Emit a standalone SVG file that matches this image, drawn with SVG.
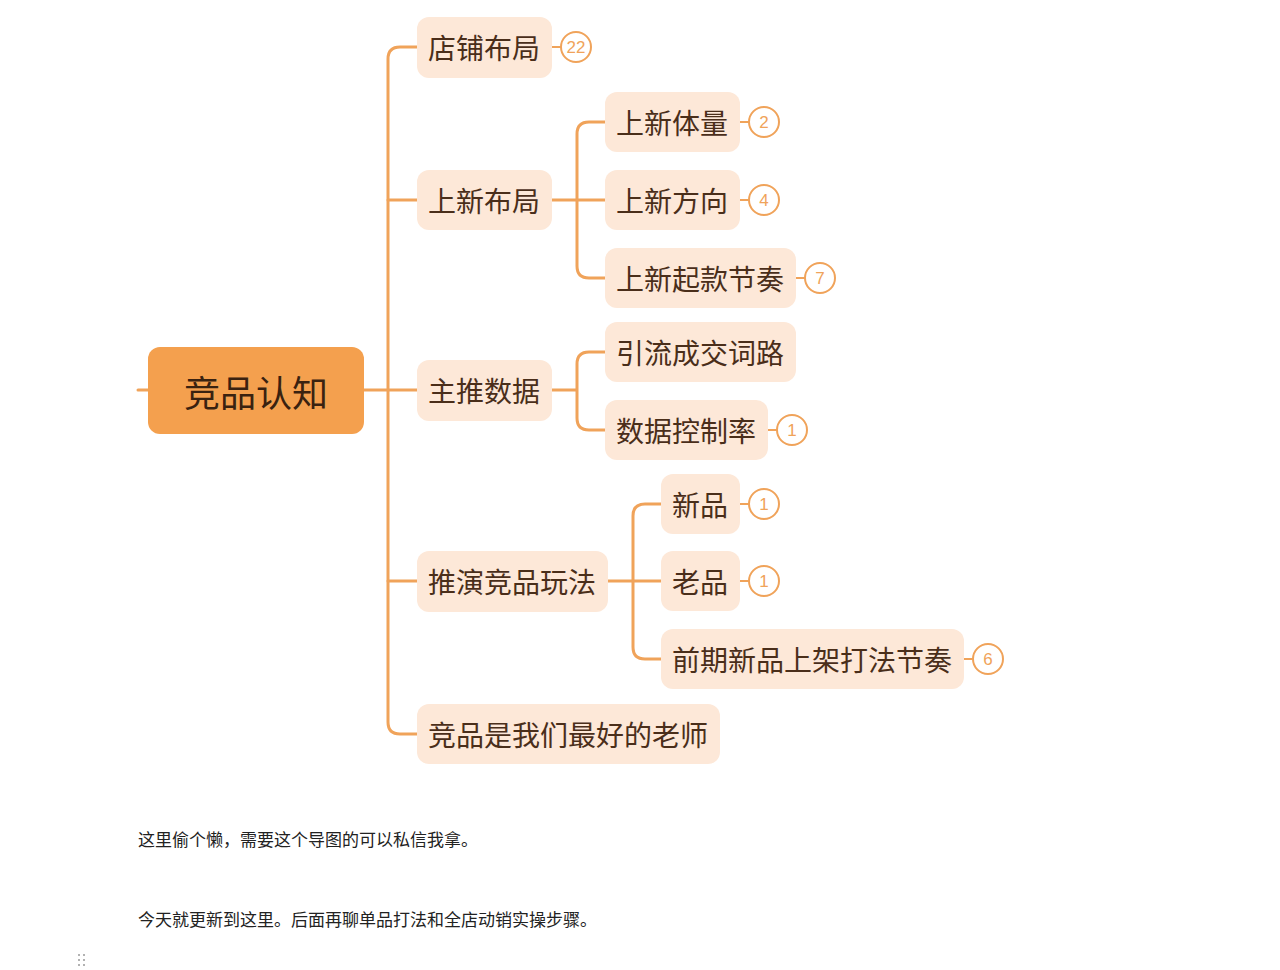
<svg xmlns="http://www.w3.org/2000/svg" width="1280" height="970" viewBox="0 0 1280 970">
<style>
.c{fill:none;stroke:#f0a35a;stroke-width:3;stroke-linecap:round}
.n{fill:#fde8d8}
.t{font-family:"Noto Sans CJK SC",sans-serif;font-size:28px;fill:#4a2e1a;dominant-baseline:central}
.b{fill:#fff;stroke:#f0a35a;stroke-width:2}
.bt{font-family:"Liberation Sans",sans-serif;font-size:17px;fill:#f0a35a;text-anchor:middle;dominant-baseline:central}
.p{font-family:"Noto Sans CJK SC",sans-serif;font-size:17px;fill:#222}
</style>
<rect width="1280" height="970" fill="#fff"/>
<g id="connectors">
<path class="c" d="M138 390H148M364 390H418"/>
<path class="c" d="M418 47H400Q388 47 388 59V722Q388 734 400 734H418"/>
<path class="c" d="M388 200Q388 200 400 200H418M388 581H418"/>
<path class="c" d="M552 200H606M606 122H589Q577 122 577 134V266Q577 278 589 278H606"/>
<path class="c" d="M552 390H577M606 352H589Q577 352 577 364V418Q577 430 589 430H606"/>
<path class="c" d="M608 581H662M662 504H645Q633 504 633 516V647Q633 659 645 659H662"/>
<path class="c" d="M552 47H562M740 122H750M740 200H750M796 278H806M768 430H778M740 504H750M740 581H750M964 659H974" style="stroke-width:2"/>
</g>
<g id="root"><rect x="148" y="347" width="216" height="87" rx="12" fill="#f4a04e"/><text x="256" y="391" class="t" style="font-size:36px;fill:#3a2210" text-anchor="middle">竞品认知</text></g>
<g id="n1"><rect class="n" x="417" y="17" width="135" height="61" rx="12"/><text class="t" x="428" y="47">店铺布局</text><circle class="b" cx="576" cy="47" r="15"/><text class="bt" x="576" y="47">22</text></g>
<g id="n2"><rect class="n" x="417" y="170" width="135" height="60" rx="12"/><text class="t" x="428" y="200">上新布局</text></g>
<g id="n3"><rect class="n" x="417" y="360" width="135" height="61" rx="12"/><text class="t" x="428" y="390">主推数据</text></g>
<g id="n4"><rect class="n" x="417" y="551" width="191" height="61" rx="12"/><text class="t" x="428" y="581">推演竞品玩法</text></g>
<g id="n5"><rect class="n" x="417" y="704" width="303" height="60" rx="12"/><text class="t" x="428" y="734">竞品是我们最好的老师</text></g>
<g id="n21"><rect class="n" x="605" y="92" width="135" height="60" rx="12"/><text class="t" x="616" y="122">上新体量</text><circle class="b" cx="764" cy="122" r="15"/><text class="bt" x="764" y="122">2</text></g>
<g id="n22"><rect class="n" x="605" y="170" width="135" height="60" rx="12"/><text class="t" x="616" y="200">上新方向</text><circle class="b" cx="764" cy="200" r="15"/><text class="bt" x="764" y="200">4</text></g>
<g id="n23"><rect class="n" x="605" y="248" width="191" height="60" rx="12"/><text class="t" x="616" y="278">上新起款节奏</text><circle class="b" cx="820" cy="278" r="15"/><text class="bt" x="820" y="278">7</text></g>
<g id="n31"><rect class="n" x="605" y="322" width="191" height="60" rx="12"/><text class="t" x="616" y="352">引流成交词路</text></g>
<g id="n32"><rect class="n" x="605" y="400" width="163" height="60" rx="12"/><text class="t" x="616" y="430">数据控制率</text><circle class="b" cx="792" cy="430" r="15"/><text class="bt" x="792" y="430">1</text></g>
<g id="n41"><rect class="n" x="661" y="474" width="79" height="60" rx="12"/><text class="t" x="672" y="504">新品</text><circle class="b" cx="764" cy="504" r="15"/><text class="bt" x="764" y="504">1</text></g>
<g id="n42"><rect class="n" x="661" y="551" width="79" height="60" rx="12"/><text class="t" x="672" y="581">老品</text><circle class="b" cx="764" cy="581" r="15"/><text class="bt" x="764" y="581">1</text></g>
<g id="n43"><rect class="n" x="661" y="629" width="303" height="60" rx="12"/><text class="t" x="672" y="659">前期新品上架打法节奏</text><circle class="b" cx="988" cy="659" r="15"/><text class="bt" x="988" y="659">6</text></g>
<text class="p" x="138" y="846">这里偷个懒，需要这个导图的可以私信我拿。</text>
<text class="p" x="138" y="926">今天就更新到这里。后面再聊单品打法和全店动销实操步骤。</text>
<g fill="#999"><circle cx="79" cy="955" r="1"/><circle cx="84" cy="955" r="1"/><circle cx="79" cy="960" r="1"/><circle cx="84" cy="960" r="1"/><circle cx="79" cy="965" r="1"/><circle cx="84" cy="965" r="1"/></g>
</svg>
